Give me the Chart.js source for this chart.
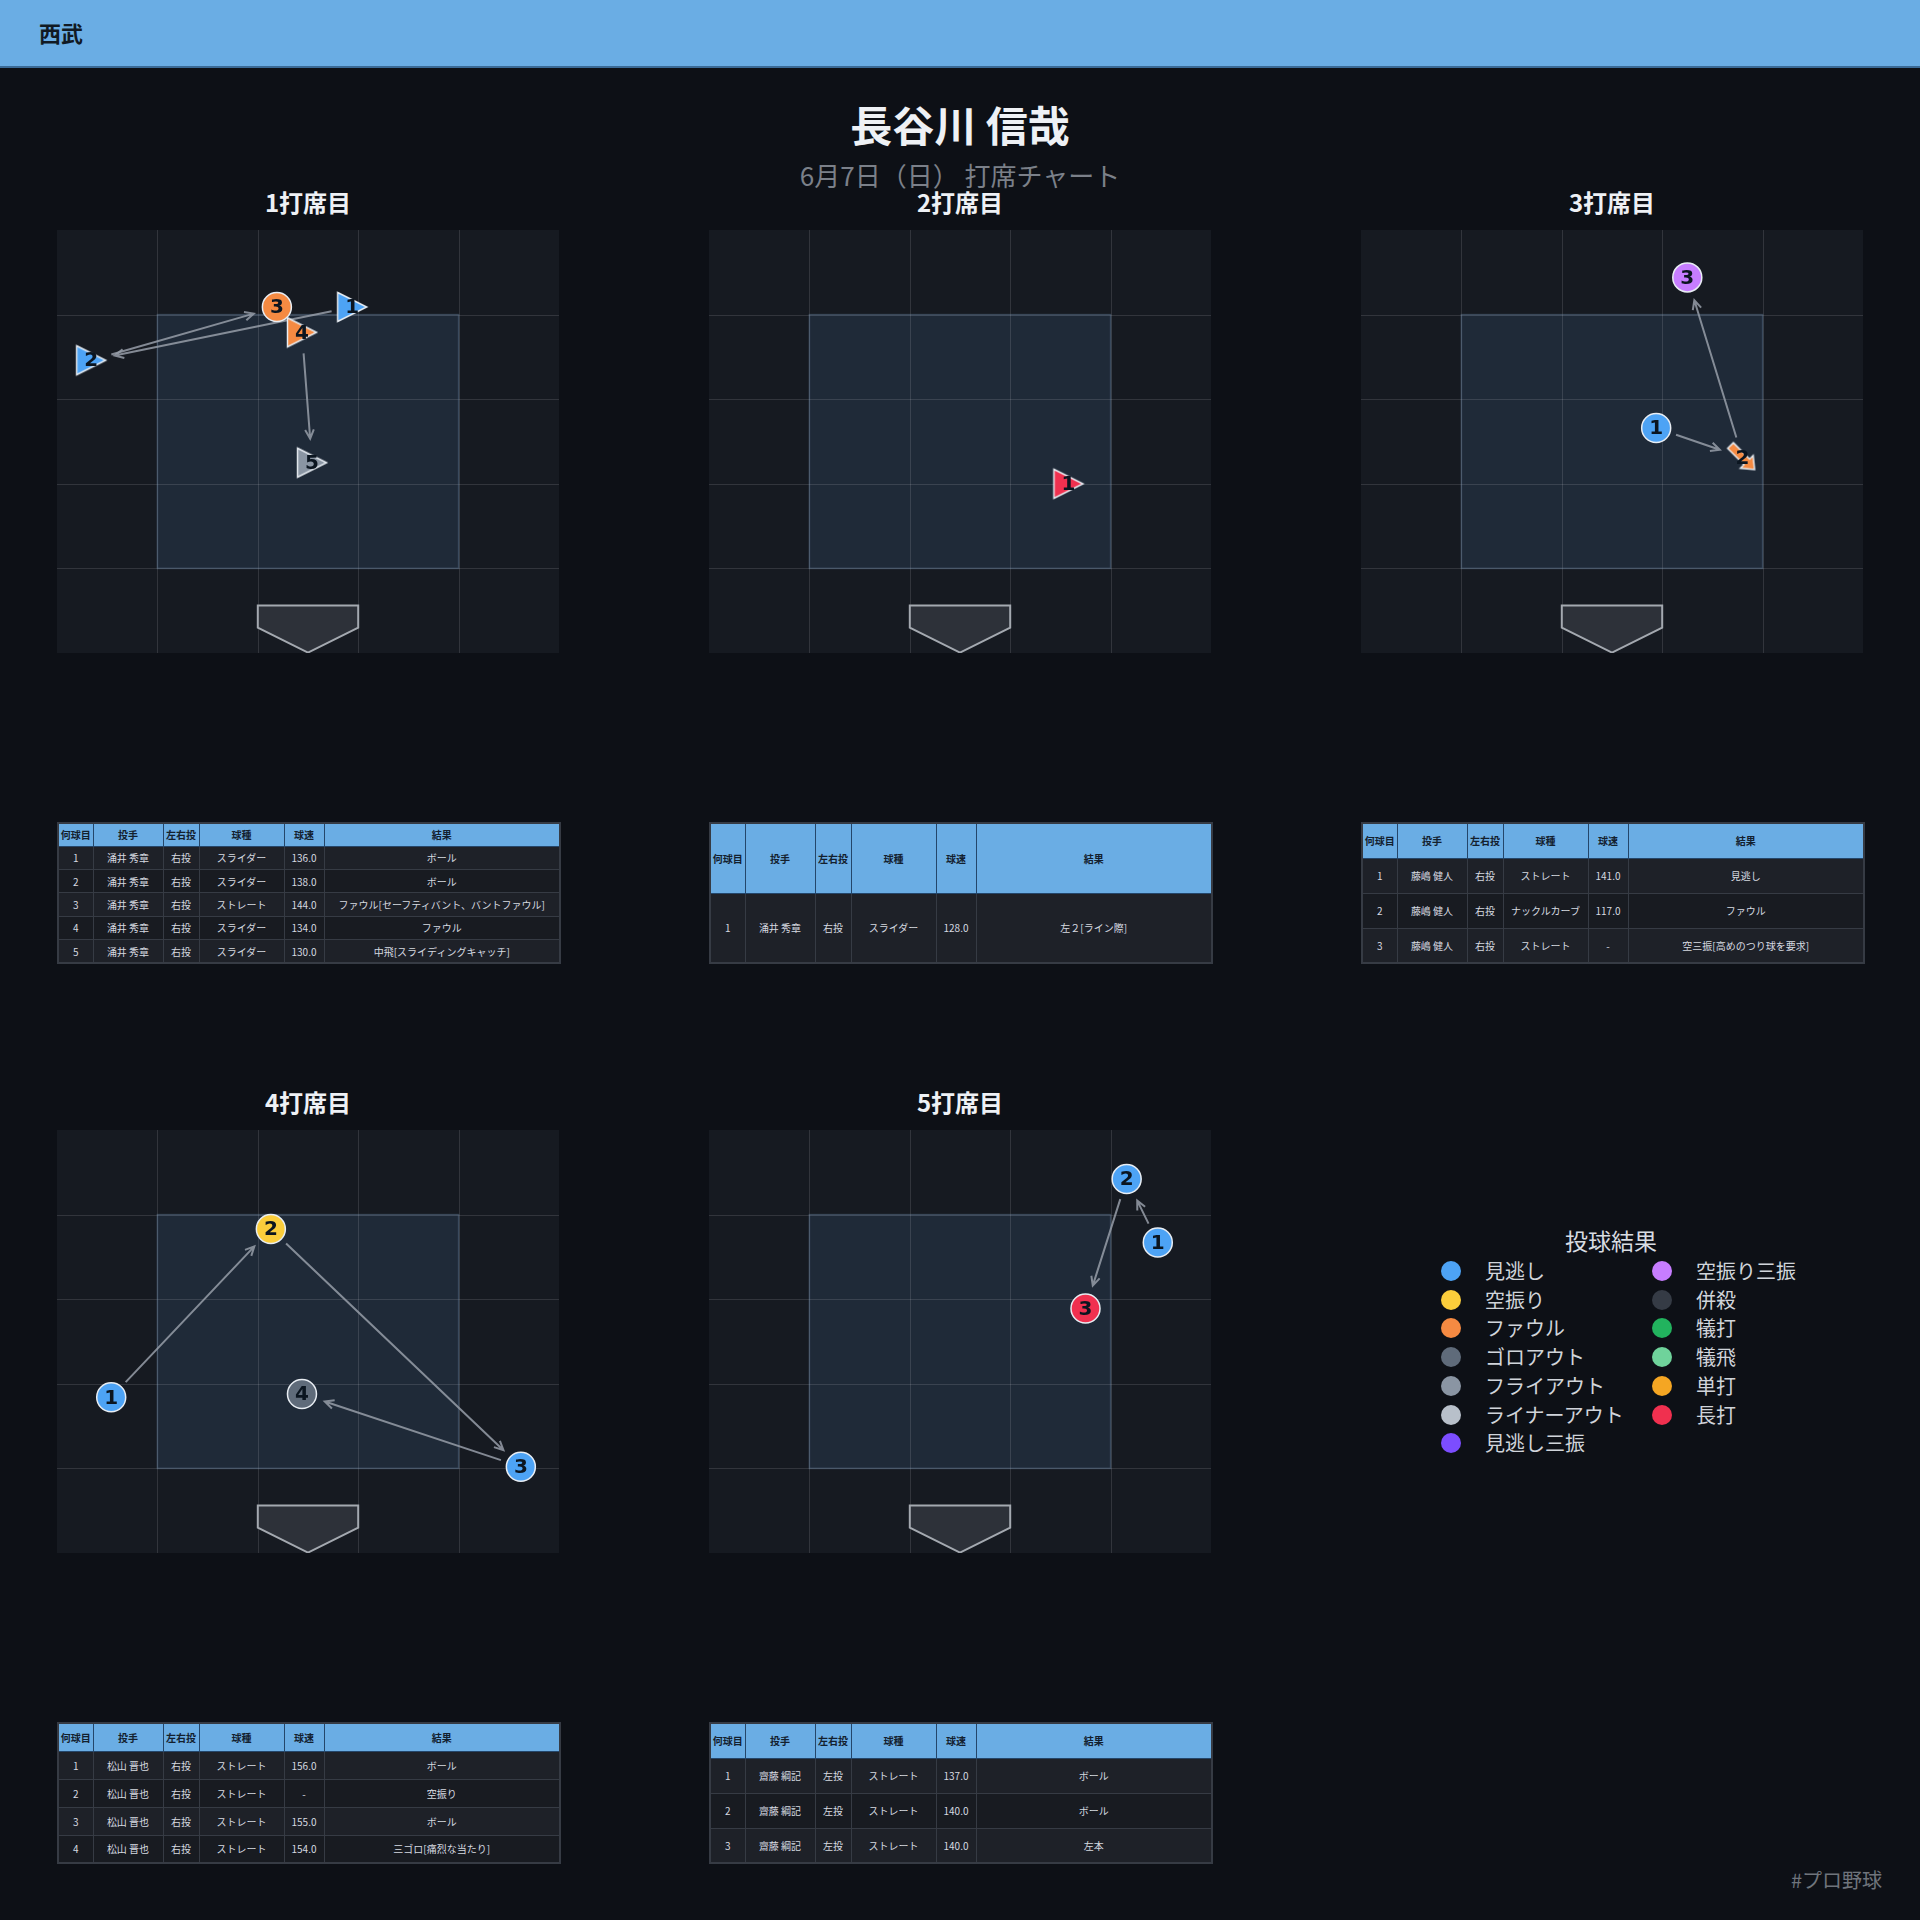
<!DOCTYPE html>
<html lang="ja">
<head>
<meta charset="utf-8">
<title>長谷川 信哉 打席チャート</title>
<script src="https://cdn.jsdelivr.net/npm/chart.js@4.4.1/dist/chart.umd.min.js"></script>
<style>
  body {
    margin: 0;
    width: 1920px;
    height: 1920px;
    background: #0d1016;
    font-family: "Noto Sans CJK JP", "Noto Sans", sans-serif;
    position: relative;
    overflow: hidden;
  }
  .topbar {
    position: absolute; left: 0; top: 0;
    width: 1920px; height: 66px;
    background: #6aade4;
    border-bottom: 2px solid #3a6a96;
  }
  .topbar span {
    position: absolute; left: 39px; top: 21px;
    font-size: 22px; line-height: 22px; font-weight: bold; color: #111a24;
  }
  .title {
    position: absolute; left: 0; top: 103px; width: 1920px;
    text-align: center; color: #eef1f5;
    font-size: 42px; line-height: 42px; font-weight: bold;
  }
  .subtitle {
    position: absolute; left: 0; top: 162px; width: 1920px;
    text-align: center; color: #7b8089;
    font-size: 26px; line-height: 26px;
  }
  .ptitle {
    position: absolute; width: 502px; text-align: center;
    color: #eef1f5; font-size: 24px; line-height: 24px; font-weight: bold;
  }
  canvas.panel { position: absolute; }
  table.pt {
    position: absolute; width: 502px; height: 140px;
    border-collapse: collapse; table-layout: fixed;
    font-size: 10px; border: 2px solid #363b44;
  }
  table.pt th {
    background: #6aade4; color: #13202e; font-weight: bold;
    border: 1px solid #24466a; padding: 0; text-align: center;
  }
  table.pt td {
    background: #181b21; color: #d6dae0;
    border: 1px solid #363b44; padding: 0; text-align: center;
  }
  table.pt tr:nth-child(odd) td { background: #1e2128; }
  .legend-title {
    position: absolute; left: 1451px; top: 1227px; width: 320px;
    text-align: center; color: #d8dce2; font-size: 23px; line-height: 26px;
  }
  .legend-item {
    position: absolute; height: 28px; line-height: 28px;
    color: #d0d4da; font-size: 20px; padding-left: 44px; white-space: nowrap;
  }
  .legend-item i {
    position: absolute; left: 0; top: 4px;
    width: 20px; height: 20px; border-radius: 50%;
  }
  .tag {
    position: absolute; right: 38px; top: 1868px;
    color: #6f747c; font-size: 20px; line-height: 24px;
  }
</style>
</head>
<body>
<div class="topbar"><span>西武</span></div>
<div class="title">長谷川 信哉</div>
<div class="subtitle">6月7日（日） 打席チャート</div>
<div id="page"></div>
<div class="tag">#プロ野球</div>

<script>
// ---- data ----
const panelTitles = ['1打席目', '2打席目', '3打席目', '4打席目', '5打席目'];

// pitch locations (x: 0-5 left to right, y: 0-5 bottom to top, zone = 1..4)
const ab1X = [2.94, 0.34, 2.19, 2.44, 2.54];
const ab1Y = [4.09, 3.46, 4.09, 3.79, 2.25];
const ab2X = [3.58];
const ab2Y = [2.00];
const ab3X = [2.94, 3.80, 3.25];
const ab3Y = [2.66, 2.31, 4.44];
const ab4X = [0.54, 2.13, 4.62, 2.44];
const ab4Y = [1.84, 3.83, 1.02, 1.88];
const ab5X = [4.47, 4.16, 3.75];
const ab5Y = [3.67, 4.42, 2.89];

// result category per pitch (marker colour)
const ab1Cat = ['見逃し', '見逃し', 'ファウル', 'ファウル', 'フライアウト'];
const ab2Cat = ['長打'];
const ab3Cat = ['見逃し', 'ファウル', '空振り三振'];
const ab4Cat = ['見逃し', '空振り', '見逃し', 'ゴロアウト'];
const ab5Cat = ['見逃し', '見逃し', '長打'];

// table columns
const tableHead = ['何球目', '投手', '左右投', '球種', '球速', '結果'];
const ab1Pitcher = ['涌井 秀章', '涌井 秀章', '涌井 秀章', '涌井 秀章', '涌井 秀章'];
const ab1Hand = ['右投', '右投', '右投', '右投', '右投'];
const ab1Type = ['スライダー', 'スライダー', 'ストレート', 'スライダー', 'スライダー'];
const ab1Speed = ['136.0', '138.0', '144.0', '134.0', '130.0'];
const ab1Result = ['ボール', 'ボール', 'ファウル[セーフティバント、バントファウル]', 'ファウル', '中飛[スライディングキャッチ]'];

const ab2Pitcher = ['涌井 秀章'];
const ab2Hand = ['右投'];
const ab2Type = ['スライダー'];
const ab2Speed = ['128.0'];
const ab2Result = ['左２[ライン際]'];

const ab3Pitcher = ['藤嶋 健人', '藤嶋 健人', '藤嶋 健人'];
const ab3Hand = ['右投', '右投', '右投'];
const ab3Type = ['ストレート', 'ナックルカーブ', 'ストレート'];
const ab3Speed = ['141.0', '117.0', '-'];
const ab3Result = ['見逃し', 'ファウル', '空三振[高めのつり球を要求]'];

const ab4Pitcher = ['松山 晋也', '松山 晋也', '松山 晋也', '松山 晋也'];
const ab4Hand = ['右投', '右投', '右投', '右投'];
const ab4Type = ['ストレート', 'ストレート', 'ストレート', 'ストレート'];
const ab4Speed = ['156.0', '-', '155.0', '154.0'];
const ab4Result = ['ボール', '空振り', 'ボール', '三ゴロ[痛烈な当たり]'];

const ab5Pitcher = ['齋藤 綱記', '齋藤 綱記', '齋藤 綱記'];
const ab5Hand = ['左投', '左投', '左投'];
const ab5Type = ['ストレート', 'ストレート', 'ストレート'];
const ab5Speed = ['137.0', '140.0', '140.0'];
const ab5Result = ['ボール', 'ボール', '左本'];

const legendLabels = ['見逃し', '空振り', 'ファウル', 'ゴロアウト', 'フライアウト', 'ライナーアウト', '見逃し三振',
                      '空振り三振', '併殺', '犠打', '犠飛', '単打', '長打'];
const legendColors = ['#4da3f5', '#fbcd3b', '#f58a42', '#5f6b7a', '#8a95a3', '#b8c0ca', '#7c4dff',
                      '#c77dff', '#353b45', '#22b35e', '#6fd39b', '#f5a623', '#f0304f'];

const atBats = [
  { x: ab1X, y: ab1Y, cat: ab1Cat, pitcher: ab1Pitcher, hand: ab1Hand, type: ab1Type, speed: ab1Speed, result: ab1Result },
  { x: ab2X, y: ab2Y, cat: ab2Cat, pitcher: ab2Pitcher, hand: ab2Hand, type: ab2Type, speed: ab2Speed, result: ab2Result },
  { x: ab3X, y: ab3Y, cat: ab3Cat, pitcher: ab3Pitcher, hand: ab3Hand, type: ab3Type, speed: ab3Speed, result: ab3Result },
  { x: ab4X, y: ab4Y, cat: ab4Cat, pitcher: ab4Pitcher, hand: ab4Hand, type: ab4Type, speed: ab4Speed, result: ab4Result },
  { x: ab5X, y: ab5Y, cat: ab5Cat, pitcher: ab5Pitcher, hand: ab5Hand, type: ab5Type, speed: ab5Speed, result: ab5Result }
];

// ---- layout ----
const panelLeft = [57, 709, 1361, 57, 709];
const panelTop = [230, 230, 230, 1130, 1130];
const titleTop = [190, 190, 190, 1090, 1090];
const tableTop = [822, 822, 822, 1722, 1722];
const colWidths = [35, 70, 36, 85, 40, 236];

function colorOf(cat) {
  return legendColors[legendLabels.indexOf(cat)];
}

// custom marker shapes (pitch type -> shape)
function triangleMarker(color) {
  const c = document.createElement('canvas');
  c.width = 36; c.height = 36;
  const g = c.getContext('2d');
  g.beginPath();
  g.moveTo(3.5, 3.5);
  g.lineTo(32.5, 18);
  g.lineTo(3.5, 32.5);
  g.closePath();
  g.fillStyle = color;
  g.fill();
  g.lineWidth = 1.5;
  g.strokeStyle = '#e8edf3';
  g.stroke();
  return c;
}

function arrowMarker(color) {
  const c = document.createElement('canvas');
  c.width = 40; c.height = 40;
  const g = c.getContext('2d');
  g.translate(20, 20);
  g.rotate(Math.PI / 4);
  g.beginPath();
  g.moveTo(-17, -4);
  g.lineTo(6, -4);
  g.lineTo(6, -9);
  g.lineTo(17, 0);
  g.lineTo(6, 9);
  g.lineTo(6, 4);
  g.lineTo(-17, 4);
  g.closePath();
  g.fillStyle = color;
  g.fill();
  g.lineWidth = 1.5;
  g.strokeStyle = '#e8edf3';
  g.stroke();
  return c;
}

function markerFor(type, color) {
  if (type === 'スライダー') return triangleMarker(color);
  if (type === 'ナックルカーブ') return arrowMarker(color);
  return 'circle';
}

const zonePlugin = {
  id: 'zone',
  beforeDatasetsDraw(chart) {
    const { ctx, chartArea: a, scales: { x, y } } = chart;
    ctx.save();
    ctx.fillStyle = '#161a21';
    ctx.fillRect(a.left, a.top, a.width, a.height);

    const zx0 = x.getPixelForValue(1), zx1 = x.getPixelForValue(4);
    const zy0 = y.getPixelForValue(4), zy1 = y.getPixelForValue(1);
    ctx.fillStyle = '#1f2a38';
    ctx.fillRect(zx0, zy0, zx1 - zx0, zy1 - zy0);

    ctx.strokeStyle = 'rgba(255,255,255,0.12)';
    ctx.lineWidth = 1;
    for (let i = 1; i < 5; i++) {
      const px = Math.round(x.getPixelForValue(i)) + 0.5;
      const py = Math.round(y.getPixelForValue(i)) + 0.5;
      ctx.beginPath();
      ctx.moveTo(px, a.top); ctx.lineTo(px, a.bottom);
      ctx.moveTo(a.left, py); ctx.lineTo(a.right, py);
      ctx.stroke();
    }
    ctx.strokeStyle = 'rgba(120,150,180,0.35)';
    ctx.lineWidth = 1.5;
    ctx.strokeRect(zx0, zy0, zx1 - zx0, zy1 - zy0);

    // home plate
    const plate = [[2, 0.56], [3, 0.56], [3, 0.3], [2.5, 0.005], [2, 0.3]];
    ctx.beginPath();
    plate.forEach((p, i) => {
      const px = x.getPixelForValue(p[0]), py = y.getPixelForValue(p[1]);
      if (i === 0) ctx.moveTo(px, py); else ctx.lineTo(px, py);
    });
    ctx.closePath();
    ctx.fillStyle = '#2d3139';
    ctx.fill();
    ctx.strokeStyle = '#a4a9b0';
    ctx.lineWidth = 2;
    ctx.stroke();

    // pitch order arrows
    const pts = chart.getDatasetMeta(0).data;
    ctx.strokeStyle = 'rgba(150,158,168,0.85)';
    ctx.lineWidth = 2;
    for (let i = 0; i < pts.length - 1; i++) {
      const p0 = pts[i], p1 = pts[i + 1];
      const dx = p1.x - p0.x, dy = p1.y - p0.y;
      const len = Math.hypot(dx, dy);
      if (len < 48) continue;
      const ux = dx / len, uy = dy / len;
      const sx = p0.x + ux * 21, sy = p0.y + uy * 21;
      const ex = p1.x - ux * 24, ey = p1.y - uy * 24;
      ctx.beginPath();
      ctx.moveTo(sx, sy); ctx.lineTo(ex, ey);
      const ang = Math.atan2(uy, ux);
      ctx.moveTo(ex - 10 * Math.cos(ang - 0.45), ey - 10 * Math.sin(ang - 0.45));
      ctx.lineTo(ex, ey);
      ctx.lineTo(ex - 10 * Math.cos(ang + 0.45), ey - 10 * Math.sin(ang + 0.45));
      ctx.stroke();
    }
    ctx.restore();
  },
  afterDatasetsDraw(chart) {
    const { ctx } = chart;
    const pts = chart.getDatasetMeta(0).data;
    ctx.save();
    ctx.font = 'bold 20px "DejaVu Sans"';
    ctx.fillStyle = '#0b1520';
    ctx.textAlign = 'center';
    ctx.textBaseline = 'middle';
    pts.forEach((p, i) => ctx.fillText(String(i + 1), p.x, p.y + 1));
    ctx.restore();
  }
};

const page = document.getElementById('page');

atBats.forEach((ab, k) => {
  const t = document.createElement('div');
  t.className = 'ptitle';
  t.style.left = panelLeft[k] + 'px';
  t.style.top = titleTop[k] + 'px';
  t.textContent = panelTitles[k];
  page.appendChild(t);

  const cv = document.createElement('canvas');
  cv.className = 'panel';
  cv.width = 502; cv.height = 423;
  cv.style.left = panelLeft[k] + 'px';
  cv.style.top = panelTop[k] + 'px';
  page.appendChild(cv);

  const colors = ab.cat.map(colorOf);
  new Chart(cv.getContext('2d'), {
    type: 'scatter',
    data: {
      datasets: [{
        data: ab.x.map((v, i) => ({ x: v, y: ab.y[i] })),
        pointStyle: ab.type.map((tp, i) => markerFor(tp, colors[i])),
        pointRadius: 14.5,
        backgroundColor: colors,
        borderColor: '#e8edf3',
        borderWidth: 1.5,
        clip: false
      }]
    },
    options: {
      responsive: false,
      animation: false,
      events: [],
      layout: { padding: 0, autoPadding: false },
      scales: {
        x: { type: 'linear', min: 0, max: 5, display: false },
        y: { type: 'linear', min: 0, max: 5, display: false }
      },
      plugins: { legend: { display: false }, tooltip: { enabled: false } }
    },
    plugins: [zonePlugin]
  });

  // pitch table
  const tbl = document.createElement('table');
  tbl.className = 'pt';
  tbl.style.left = panelLeft[k] + 'px';
  tbl.style.top = tableTop[k] + 'px';
  const rowH = (140 / (ab.x.length + 1)).toFixed(2) + 'px';
  const cg = document.createElement('colgroup');
  colWidths.forEach(w => {
    const c = document.createElement('col');
    c.style.width = w + 'px';
    cg.appendChild(c);
  });
  tbl.appendChild(cg);
  const hr = document.createElement('tr');
  hr.style.height = rowH;
  tableHead.forEach(h => {
    const th = document.createElement('th');
    th.textContent = h;
    hr.appendChild(th);
  });
  tbl.appendChild(hr);
  ab.x.forEach((_, i) => {
    const tr = document.createElement('tr');
    tr.style.height = rowH;
    [String(i + 1), ab.pitcher[i], ab.hand[i], ab.type[i], ab.speed[i], ab.result[i]].forEach(v => {
      const td = document.createElement('td');
      td.textContent = v;
      tr.appendChild(td);
    });
    tbl.appendChild(tr);
  });
  page.appendChild(tbl);
});

// legend (two columns, column-major)
const lt = document.createElement('div');
lt.className = 'legend-title';
lt.textContent = '投球結果';
page.appendChild(lt);
legendLabels.forEach((label, i) => {
  const col = i < 7 ? 0 : 1;
  const row = col === 0 ? i : i - 7;
  const d = document.createElement('div');
  d.className = 'legend-item';
  d.style.left = (col === 0 ? 1441 : 1652) + 'px';
  d.style.top = (1257 + row * 28.7) + 'px';
  const dot = document.createElement('i');
  dot.style.background = legendColors[i];
  d.appendChild(dot);
  d.appendChild(document.createTextNode(label));
  page.appendChild(d);
});
</script>
</body>
</html>
